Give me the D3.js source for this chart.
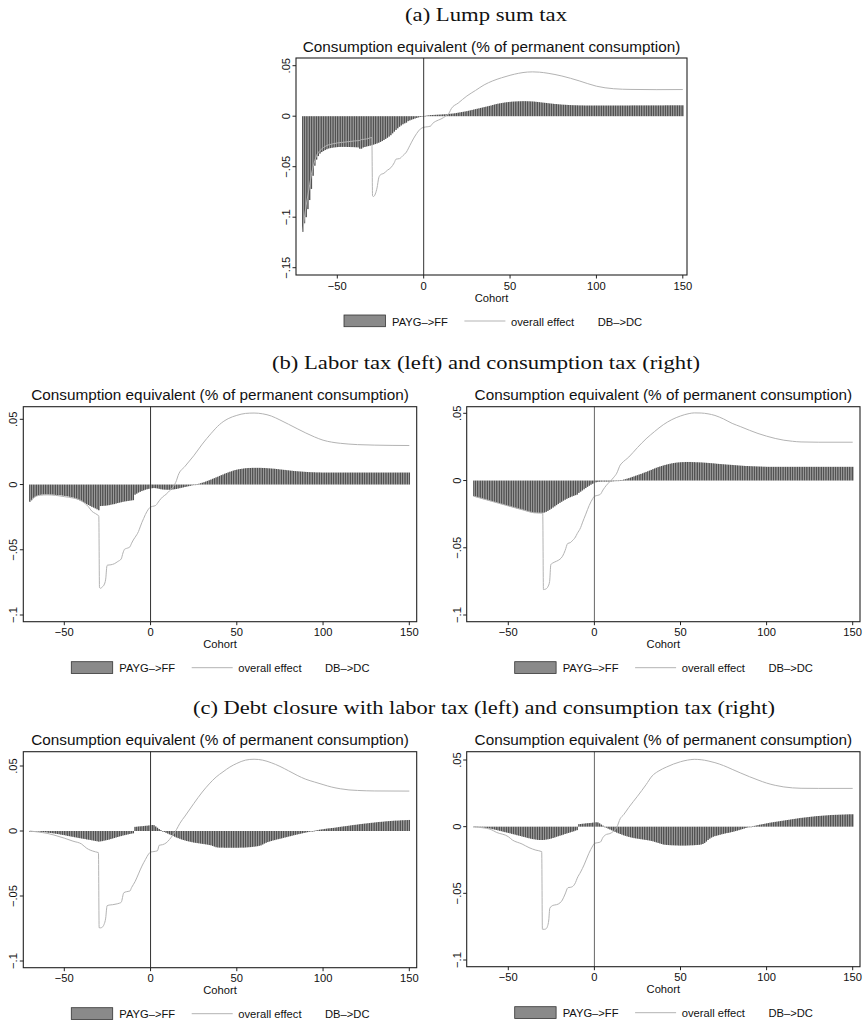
<!DOCTYPE html>
<html><head><meta charset="utf-8">
<script src="https://cdn.jsdelivr.net/npm/d3@7/dist/d3.min.js"></script>
<style>body{margin:0;background:#fff}svg{display:block}</style>
</head><body>
<svg id="chart" width="865" height="1024"></svg>
<script>
// ---------------- DATA ----------------
const cohortStart = -70, cohortEnd = 150;
const xTickValues = [-50, 0, 50, 100, 150];
const yTicksA = [0.05, 0, -0.05, -0.1, -0.15];
const yTicksBC = [0.05, 0, -0.05, -0.1];
const yTickLabels = {"0.05": ".05", "0": "0", "-0.05": "\u2212.05", "-0.1": "\u2212.1", "-0.15": "\u2212.15"};
const legendLabels = ["PAYG\u2013>FF", "overall effect", "DB\u2013>DC"];
const chartTitle = "Consumption equivalent (% of permanent consumption)";
const xAxisTitle = "Cohort";
const subtitles = ["(a) Lump sum tax", "(b) Labor tax (left) and consumption tax (right)", "(c) Debt closure with labor tax (left) and consumption tax (right)"];

// PAYG->FF bars, one value per cohort -70..150
const barsA = [
-.1145,-.106,-.1,-.092,-.083,-.072,-.059,-.049,-.043,-.0395,
-.037,-.0355,-.0345,-.0335,-.0327,-.032,-.0316,-.0313,-.031,-.0308,
-.0306,-.0305,-.0304,-.0304,-.0304,-.0304,-.0305,-.0305,-.0306,-.0306,
-.0307,-.0308,-.0309,-.0322,-.0322,-.031,-.0305,-.03,-.0296,-.0292,
-.0287,-.0282,-.0276,-.027,-.0263,-.0255,-.0246,-.0236,-.0225,-.0214,
-.0202,-.0188,-.017,-.0153,-.0136,-.012,-.0105,-.0092,-.008,-.0071,
-.0064,-.0049,-.0042,-.0035,-.0029,-.0023,-.0017,-.0012,-.0008,-.0004,
0,.0004,.0007,.0009,.0011,.0012,.0013,.0014,.0015,.0016,
.0017,.0018,.0019,.002,.0022,.0024,.0025,.0027,.0029,.0032,
.0035,.0038,.0041,.0044,.0047,.005,.0054,.0058,.0062,.0066,
.007,.0074,.0078,.0082,.0086,.009,.0094,.0098,.0102,.0106,
.0111,.0116,.012,.0124,.0127,.013,.0133,.0136,.0138,.014,
.0142,.0144,.0145,.0146,.0147,.0148,.0148,.0149,.0149,.0149,
.0148,.0148,.0147,.0146,.0145,.0143,.0141,.0139,.0137,.0135,
.0133,.0131,.0129,.0127,.0125,.0123,.0121,.012,.0118,.0117,
.0115,.0114,.0113,.0112,.0111,.011,.0109,.0109,.0108,.0108,
.0107,.0107,.0107,.0106,.0106,.0106,.0106,.0106,.0106,.0106,
.0106,.0106,.0106,.0106,.0106,.0106,.0106,.0106,.0106,.0106,
.0106,.0106,.0106,.0106,.0106,.0106,.0106,.0106,.0106,.0106,
.0107,.0107,.0107,.0107,.0107,.0107,.0107,.0107,.0107,.0107,
.0107,.0107,.0107,.0107,.0107,.0107,.0107,.0107,.0107,.0107,
.0108,.0108,.0108,.0108,.0108,.0108,.0108,.0108,.0108,.0108,.0108];

const barsBL = [
-.0133,-.012,-.0105,-.0095,-.0088,-.0083,-.008,-.0078,-.0077,-.0077,
-.0077,-.0077,-.0078,-.0078,-.0079,-.008,-.0081,-.0082,-.0083,-.0085,
-.0087,-.0089,-.0091,-.0094,-.0097,-.01,-.0105,-.011,-.0115,-.0121,
-.0128,-.0135,-.0142,-.015,-.0157,-.0164,-.0171,-.0177,-.0183,-.019,
-.0197,-.0165,-.0164,-.0163,-.0162,-.016,-.0158,-.0155,-.0152,-.015,
-.0146,-.0142,-.0139,-.0136,-.0133,-.013,-.0128,-.0126,-.0124,-.0122,
-.012,-.0078,-.007,-.0062,-.0056,-.005,-.0045,-.004,-.0036,-.0033,
-.003,-.0028,-.0027,-.0028,-.003,-.0033,-.0036,-.0038,-.0039,-.004,
-.004,-.004,-.0039,-.0038,-.0036,-.0034,-.0031,-.0028,-.0025,-.0022,
-.0019,-.0016,-.0013,-.001,-.0007,-.0004,-.0001,.0002,.0006,.001,
.0014,.0018,.0023,.0028,.0033,.0038,.0044,.0049,.0055,.006,
.0066,.0072,.0077,.0083,.0088,.0093,.0098,.0102,.0107,.0111,
.0114,.0117,.0119,.0121,.0123,.0125,.0126,.0127,.0127,.0128,
.0128,.0128,.0128,.0128,.0128,.0127,.0127,.0126,.0125,.0124,
.0123,.0122,.0121,.0119,.0118,.0116,.0115,.0113,.0112,.011,
.0109,.0107,.0106,.0104,.0103,.0102,.0101,.01,.0099,.0098,
.0097,.0096,.0095,.0095,.0094,.0094,.0093,.0093,.0093,.0092,
.0092,.0092,.0092,.0092,.0092,.0092,.0092,.0092,.0092,.0092,
.0092,.0092,.0092,.0092,.0092,.0092,.0092,.0092,.0092,.0092,
.0092,.0092,.0092,.0092,.0092,.0092,.0092,.0092,.0092,.0092,
.0092,.0092,.0092,.0092,.0092,.0092,.0092,.0092,.0092,.0092,
.0092,.0092,.0092,.0092,.0092,.0092,.0092,.0092,.0092,.0092,.0092];

const barsBR = [
-.0117,-.0121,-.0124,-.0128,-.0131,-.0135,-.0139,-.0142,-.0146,-.0149,
-.0153,-.0157,-.016,-.0164,-.0167,-.0171,-.0175,-.0178,-.0182,-.0185,
-.0189,-.0193,-.0196,-.02,-.0203,-.0207,-.021,-.0213,-.0217,-.022,
-.0224,-.0228,-.0232,-.0235,-.0238,-.024,-.0241,-.0242,-.0242,-.0242,
-.0241,-.0238,-.0233,-.0226,-.0218,-.021,-.0201,-.0192,-.0183,-.0174,
-.0166,-.0158,-.015,-.0143,-.0136,-.013,-.0124,-.0119,-.0114,-.0109,
-.0105,-.0092,-.0083,-.0074,-.0065,-.0056,-.0047,-.0039,-.0031,-.0024,
-.0017,-.0013,-.001,-.0009,-.0008,-.0008,-.0008,-.0008,-.0008,-.0008,
-.0007,-.0006,-.0005,-.0003,-.0001,.0001,.0004,.0007,.001,.0014,
.0018,.0022,.0027,.0031,.0036,.004,.0045,.0049,.0054,.0059,
.0064,.0069,.0074,.0079,.0085,.009,.0095,.01,.0104,.0108,
.0112,.0116,.0119,.0122,.0125,.0128,.013,.0132,.0134,.0135,
.0136,.0137,.0137,.0138,.0138,.0138,.0138,.0137,.0137,.0136,
.0136,.0135,.0135,.0134,.0133,.0132,.0131,.013,.0129,.0128,
.0127,.0125,.0124,.0123,.0122,.0121,.012,.0119,.0118,.0117,
.0116,.0115,.0114,.0113,.0112,.0111,.011,.0109,.0108,.0108,
.0107,.0107,.0106,.0106,.0105,.0105,.0104,.0104,.0103,.0103,
.0102,.0102,.0102,.0102,.0102,.0102,.0102,.0102,.0102,.0102,
.0102,.0102,.0102,.0102,.0102,.0102,.0102,.0102,.0102,.0102,
.0102,.0102,.0102,.0102,.0102,.0102,.0102,.0102,.0102,.0102,
.0102,.0102,.0102,.0102,.0102,.0102,.0102,.0102,.0102,.0102,
.0102,.0102,.0102,.0102,.0102,.0102,.0102,.0102,.0102,.0102,.0102];

const barsCL = [
0,-.0001,-.0002,-.0003,-.0004,-.0005,-.0006,-.0008,-.0009,-.001,
-.0012,-.0014,-.0015,-.0017,-.0019,-.0021,-.0023,-.0025,-.0028,-.003,
-.0032,-.0035,-.0038,-.004,-.0043,-.0045,-.0048,-.005,-.0053,-.0055,
-.0058,-.006,-.0062,-.0065,-.0067,-.0069,-.0072,-.0074,-.0077,-.0079,
-.0082,-.008,-.0078,-.0075,-.0072,-.0069,-.0066,-.0062,-.0058,-.0054,
-.005,-.0046,-.0042,-.0039,-.0035,-.0032,-.0029,-.0026,-.0023,-.002,
-.0018,.0032,.0033,.0035,.0036,.0037,.0038,.004,.0041,.0043,
.0044,.0046,.0045,.0035,.0025,.0015,.0007,0,-.0007,-.0014,
-.002,-.0026,-.0032,-.0038,-.0044,-.005,-.0055,-.006,-.0065,-.0069,
-.0073,-.0077,-.008,-.0083,-.0086,-.0089,-.0091,-.0093,-.0095,-.0097,
-.0099,-.0101,-.0103,-.0105,-.0108,-.011,-.0115,-.012,-.0125,-.0127,
-.0128,-.0128,-.0128,-.0129,-.0129,-.0129,-.0129,-.0129,-.0129,-.0129,
-.0129,-.0129,-.0128,-.0128,-.0128,-.0127,-.0126,-.0125,-.0124,-.0122,
-.0121,-.0119,-.0117,-.0114,-.0111,-.0104,-.0097,-.0091,-.0085,-.0081,
-.0077,-.0073,-.007,-.0066,-.0063,-.006,-.0057,-.0053,-.005,-.0047,
-.0043,-.004,-.0037,-.0033,-.003,-.0027,-.0024,-.0021,-.0018,-.0015,
-.0012,-.0009,-.0006,-.0003,0,.0002,.0005,.0007,.001,.0012,
.0014,.0016,.0018,.002,.0021,.0023,.0024,.0026,.0028,.003,
.0032,.0034,.0036,.0037,.0039,.0041,.0043,.0045,.0047,.0048,
.005,.0052,.0054,.0055,.0057,.0058,.006,.0061,.0063,.0064,
.0066,.0067,.0069,.007,.0071,.0072,.0074,.0075,.0076,.0077,
.0078,.0079,.008,.008,.0081,.0082,.0083,.0083,.0084,.0084,.0085];

const barsCR = [
0,-.0001,-.0002,-.0003,-.0005,-.0006,-.0008,-.001,-.0012,-.0014,
-.0016,-.0019,-.0022,-.0025,-.0028,-.0031,-.0034,-.0038,-.0041,-.0044,
-.0047,-.005,-.0054,-.0057,-.006,-.0064,-.0067,-.007,-.0074,-.0077,
-.008,-.0084,-.0087,-.009,-.0093,-.0095,-.0097,-.0099,-.01,-.01,
-.01,-.0099,-.0097,-.0095,-.0092,-.0089,-.0085,-.0081,-.0076,-.0072,
-.0068,-.0064,-.006,-.0055,-.0051,-.0047,-.0043,-.0039,-.0035,-.003,
-.0026,.0019,.002,.0022,.0023,.0025,.0026,.0027,.0028,.003,
.0031,.0033,.0032,.0025,.0016,.0008,0,-.0008,-.0015,-.0021,
-.0027,-.0033,-.0039,-.0045,-.005,-.0055,-.006,-.0065,-.0069,-.0073,
-.0077,-.008,-.0083,-.0086,-.0088,-.009,-.0092,-.0094,-.0096,-.0098,
-.01,-.0102,-.0104,-.0107,-.011,-.0114,-.0118,-.0122,-.0126,-.013,
-.0134,-.0136,-.0137,-.0138,-.0139,-.014,-.014,-.0141,-.0141,-.0142,
-.0142,-.0142,-.0142,-.0142,-.0141,-.0141,-.014,-.014,-.0139,-.0138,
-.0137,-.0136,-.0134,-.013,-.0123,-.0112,-.01,-.009,-.0082,-.0076,
-.0071,-.0068,-.0064,-.0061,-.0057,-.0054,-.0051,-.0048,-.0046,-.0043,
-.004,-.0037,-.0033,-.003,-.0026,-.0022,-.0018,-.0014,-.001,-.0006,
-.0003,0,.0003,.0006,.0009,.0012,.0015,.0017,.002,.0022,
.0025,.0027,.003,.0032,.0034,.0036,.0038,.004,.0042,.0044,
.0046,.0048,.005,.0052,.0054,.0056,.0058,.006,.0062,.0064,
.0066,.0067,.0069,.007,.0072,.0073,.0075,.0076,.0078,.0079,
.008,.0081,.0082,.0083,.0084,.0085,.0086,.0087,.0088,.0088,
.0089,.0089,.009,.009,.0091,.0091,.0092,.0092,.0093,.0093,.0093];

// overall effect lines: [cohort, value]
const lineA = [[-70,-.1145],[-69,-.1],[-68,-.088],[-67,-.078],[-66,-.068],[-65,-.058],[-64,-.05],[-63,-.044],[-62,-.039],[-61,-.036],[-60,-.034],[-58,-.031],[-56,-.029],[-53,-.0275],[-50,-.0265],[-45,-.0255],[-40,-.0245],[-37,-.024],[-36,-.0232],[-33,-.0225],[-31,-.0215],[-30,-.021],[-29.6,-.079],[-29,-.0795],[-28,-.077],[-27,-.071],[-26,-.061],[-25,-.058],[-23,-.0565],[-21,-.0535],[-19,-.051],[-17,-.046],[-16,-.0425],[-14,-.042],[-12,-.039],[-10,-.0355],[-8,-.029],[-6,-.0225],[-4,-.017],[-2,-.0128],[0,-.011],[2,-.0105],[4,-.0098],[5,-.0075],[7,-.005],[10,-.0028],[13,.0005],[15,.004],[16,.0075],[20,.013],[25,.02],[30,.0255],[35,.031],[40,.035],[45,.038],[50,.0405],[55,.0425],[60,.0437],[63,.0439],[67,.0436],[72,.0425],[80,.0398],[90,.035],[100,.0297],[110,.0272],[120,.0265],[135,.0263],[150,.0264]];
const lineBL = [[-70,-.0133],[-68,-.0105],[-66,-.0088],[-64,-.0082],[-60,-.0079],[-55,-.0083],[-50,-.0093],[-45,-.0103],[-42,-.0113],[-40,-.0125],[-38,-.0145],[-36,-.017],[-34,-.0205],[-32,-.0222],[-30.5,-.0235],[-30,-.024],[-29.6,-.079],[-29,-.0795],[-28,-.0785],[-27,-.077],[-26,-.0725],[-25.3,-.0625],[-25,-.0618],[-23,-.0615],[-21,-.0607],[-19,-.059],[-17,-.057],[-16,-.0525],[-15,-.0495],[-14,-.049],[-12,-.0478],[-11,-.045],[-10,-.0425],[-9,-.0405],[-7,-.036],[-6,-.0325],[-5,-.029],[-4,-.026],[-3,-.023],[-2,-.0205],[-1,-.0185],[0,-.0172],[2,-.0165],[3,-.016],[5,-.0125],[7,-.0095],[9,-.0075],[11,-.0048],[13,-.002],[15,.003],[16,.007],[20,.014],[25,.022],[30,.031],[35,.039],[40,.046],[45,.0505],[50,.053],[55,.0545],[60,.0548],[65,.0542],[70,.0525],[75,.0495],[80,.0462],[85,.0428],[90,.0395],[95,.0365],[100,.034],[105,.0325],[110,.0316],[115,.031],[120,.0306],[130,.0302],[150,.0299]];
const lineBR = [[-70,-.0117],[-60,-.0153],[-50,-.0189],[-40,-.0224],[-35,-.024],[-31,-.0242],[-30,-.0241],[-29.6,-.0811],[-29,-.081],[-28,-.0805],[-27,-.079],[-26,-.075],[-25.3,-.0625],[-24,-.0612],[-22,-.06],[-20,-.0585],[-18.5,-.0563],[-17,-.052],[-15.5,-.0468],[-14,-.0462],[-13,-.045],[-11,-.042],[-10,-.0395],[-8,-.035],[-7,-.0315],[-5,-.025],[-3,-.0185],[-1,-.0135],[0,-.0117],[2,-.011],[3.5,-.0102],[5,-.007],[7,-.0035],[9,-.0008],[11,.002],[13,.0055],[15,.0115],[16,.013],[20,.0175],[25,.0245],[30,.031],[35,.0365],[40,.0415],[45,.0453],[50,.048],[55,.0498],[58,.0503],[62,.0502],[66,.0496],[70,.0484],[75,.0458],[80,.0425],[85,.04],[90,.0374],[95,.035],[100,.033],[105,.0313],[110,.03],[115,.0292],[120,.0287],[130,.0285],[150,.0285]];
const lineCL = [[-70,0],[-65,-.0008],[-60,-.0018],[-56,-.0031],[-50,-.0055],[-45,-.0078],[-40,-.01],[-37,-.0133],[-35,-.0147],[-32,-.016],[-30.2,-.0167],[-29.8,-.0744],[-29,-.0745],[-28,-.074],[-27,-.072],[-26,-.067],[-25.2,-.0575],[-24,-.057],[-22,-.0567],[-20,-.0562],[-18,-.0555],[-17,-.0548],[-15.5,-.0475],[-14,-.0467],[-12,-.0462],[-11,-.0435],[-9,-.039],[-7,-.033],[-5,-.027],[-3,-.022],[-1,-.0175],[0,-.0162],[2,-.0158],[4,-.0152],[5,-.011],[7,-.0105],[9,-.0092],[11,-.0065],[13,-.003],[15,.001],[17,.0059],[20,.0115],[25,.021],[30,.03],[34,.0362],[38,.0415],[42,.0455],[46,.0492],[50,.052],[55,.0545],[60,.0552],[65,.0545],[70,.0525],[75,.0497],[80,.0463],[85,.0428],[90,.0398],[95,.0377],[100,.0357],[105,.0338],[110,.0325],[115,.0316],[120,.0312],[130,.0308],[150,.0307]];
const lineCR = [[-70,0],[-65,-.0008],[-60,-.0022],[-57,-.0042],[-50,-.0075],[-47.6,-.01],[-42,-.013],[-38,-.0157],[-34,-.0176],[-30.6,-.0187],[-30.2,-.0769],[-29,-.077],[-28,-.0765],[-27.3,-.075],[-26.5,-.07],[-25.9,-.0612],[-24,-.059],[-22,-.0585],[-20,-.0572],[-18.6,-.055],[-17,-.0505],[-15.3,-.0457],[-14,-.0455],[-12.8,-.045],[-11,-.042],[-10,-.0387],[-8,-.034],[-6,-.0287],[-3.2,-.02],[-1,-.0145],[0,-.0125],[2,-.012],[3.5,-.0115],[5,-.008],[7,-.0058],[9,-.0052],[11,-.0035],[13,-.0005],[15,.006],[17,.009],[20,.0145],[25,.0228],[30,.0315],[33.5,.038],[37,.0415],[42,.0448],[46,.047],[50,.0487],[54,.0499],[58,.0505],[62,.0502],[66,.0493],[70,.048],[75,.0458],[80,.043],[85,.0402],[90,.0375],[95,.035],[100,.0327],[105,.031],[110,.0298],[115,.0291],[120,.0288],[130,.0287],[150,.0287]];

// ---------------- LAYOUT ----------------
const panels = [
  {frame:[296,58,687,275], xr:[337.3,682.8], yr:[65.7,267.7], yd:[0.05,-0.15], yTicks:yTicksA, bars:barsA, line:lineA, zc:"#333"},
  {frame:[23.3,406.7,416.7,621.7], xr:[64.3,409.3], yr:[419.3,615], yd:[0.05,-0.1], yTicks:yTicksBC, bars:barsBL, line:lineBL, zc:"#333"},
  {frame:[466.7,406.7,860,621.7], xr:[508.3,852.7], yr:[413.3,615], yd:[0.05,-0.1], yTicks:yTicksBC, bars:barsBR, line:lineBR, zc:"#666"},
  {frame:[23.3,751.7,416.7,967.7], xr:[64.3,409.3], yr:[766,961], yd:[0.05,-0.1], yTicks:yTicksBC, bars:barsCL, line:lineCL, zc:"#333"},
  {frame:[466.7,751.7,860,966.7], xr:[508.3,852.7], yr:[760,960], yd:[0.05,-0.1], yTicks:yTicksBC, bars:barsCR, line:lineCR, zc:"#666"}
];
const subtitleLayout = [{x:486,y:21,w:162},{x:486,y:369,w:428},{x:484,y:714,w:582}];

const SANS = "'Liberation Sans', Arial, Helvetica, sans-serif";
const SERIF = "'Liberation Serif', 'Times New Roman', serif";
const svg = d3.select("#chart");
const cohorts = d3.range(cohortStart, cohortEnd + 1);

subtitles.forEach((t, i) => {
  const L = subtitleLayout[i];
  svg.append("text").attr("x", L.x).attr("y", L.y).attr("text-anchor", "middle")
    .attr("font-family", SERIF).attr("font-size", 18.5).attr("fill", "#111")
    .attr("textLength", L.w).attr("lengthAdjust", "spacingAndGlyphs").text(t);
});

panels.forEach(p => {
  const [L, T, R, B] = p.frame;
  const x = d3.scaleLinear().domain([-50, 150]).range(p.xr);
  const y = d3.scaleLinear().domain(p.yd).range(p.yr);
  const g = svg.append("g");

  // bars
  const barData = cohorts.map((c, i) => ({c, v: p.bars[i]}));
  g.append("g").selectAll("rect").data(barData).join("rect")
    .attr("x", d => x(d.c - 0.5) + 0.15)
    .attr("width", d => x(d.c + 0.5) - x(d.c - 0.5) - 0.3)
    .attr("y", d => Math.min(y(d.v), y(0)))
    .attr("height", d => Math.max(0.6, Math.abs(y(d.v) - y(0))))
    .attr("fill", "#525252");

  // overall effect line
  g.append("path").datum(p.line)
    .attr("d", d3.line().x(d => x(d[0])).y(d => y(d[1])).curve(d3.curveMonotoneX))
    .attr("fill", "none").attr("stroke", "#b3b3b3").attr("stroke-width", 1);

  // vertical line at 0
  g.append("line").attr("x1", x(0)).attr("x2", x(0)).attr("y1", T).attr("y2", B)
    .attr("stroke", p.zc).attr("stroke-width", 1);

  // frame
  g.append("rect").attr("x", L).attr("y", T).attr("width", R - L).attr("height", B - T)
    .attr("fill", "none").attr("stroke", "#222").attr("stroke-width", 1.1);

  // x axis ticks + labels
  xTickValues.forEach(v => {
    g.append("line").attr("x1", x(v)).attr("x2", x(v)).attr("y1", B).attr("y2", B + 3.5)
      .attr("stroke", "#222").attr("stroke-width", 1);
    g.append("text").attr("x", x(v)).attr("y", B + 14.5).attr("text-anchor", "middle")
      .attr("font-family", SANS).attr("font-size", 11.2).attr("fill", "#111")
      .text(v < 0 ? "\u2212" + Math.abs(v) : String(v));
  });
  g.append("text").attr("x", (L + R) / 2).attr("y", B + 26.5).attr("text-anchor", "middle")
    .attr("font-family", SANS).attr("font-size", 11.2).attr("fill", "#111").text(xAxisTitle);

  // y axis ticks + labels
  p.yTicks.forEach(v => {
    g.append("line").attr("x1", L - 3.5).attr("x2", L).attr("y1", y(v)).attr("y2", y(v))
      .attr("stroke", "#222").attr("stroke-width", 1);
    g.append("text").attr("transform", `translate(${L - 6},${y(v)}) rotate(-90)`)
      .attr("text-anchor", "middle").attr("font-family", SANS).attr("font-size", 11.2)
      .attr("fill", "#111").text(yTickLabels[String(v)]);
  });

  // title
  g.append("text").attr("x", (L + R) / 2).attr("y", T - 6.5).attr("text-anchor", "middle")
    .attr("font-family", SANS).attr("font-size", 15.3).attr("fill", "#111").text(chartTitle);

  // legend
  const ly = B + 40;
  g.append("rect").attr("x", L + 48).attr("y", ly).attr("width", 41.4).attr("height", 11.7)
    .attr("fill", "#8a8a8a").attr("stroke", "#333").attr("stroke-width", 0.8);
  g.append("line").attr("x1", L + 168.4).attr("x2", L + 209.4).attr("y1", ly + 6).attr("y2", ly + 6)
    .attr("stroke", "#b3b3b3").attr("stroke-width", 1);
  [[96, 0], [215, 1], [301.7, 2]].forEach(([dx, k]) => {
    g.append("text").attr("x", L + dx).attr("y", ly + 10.5).attr("font-family", SANS)
      .attr("font-size", 11.2).attr("fill", "#111").text(legendLabels[k]);
  });
});
</script>
</body></html>
